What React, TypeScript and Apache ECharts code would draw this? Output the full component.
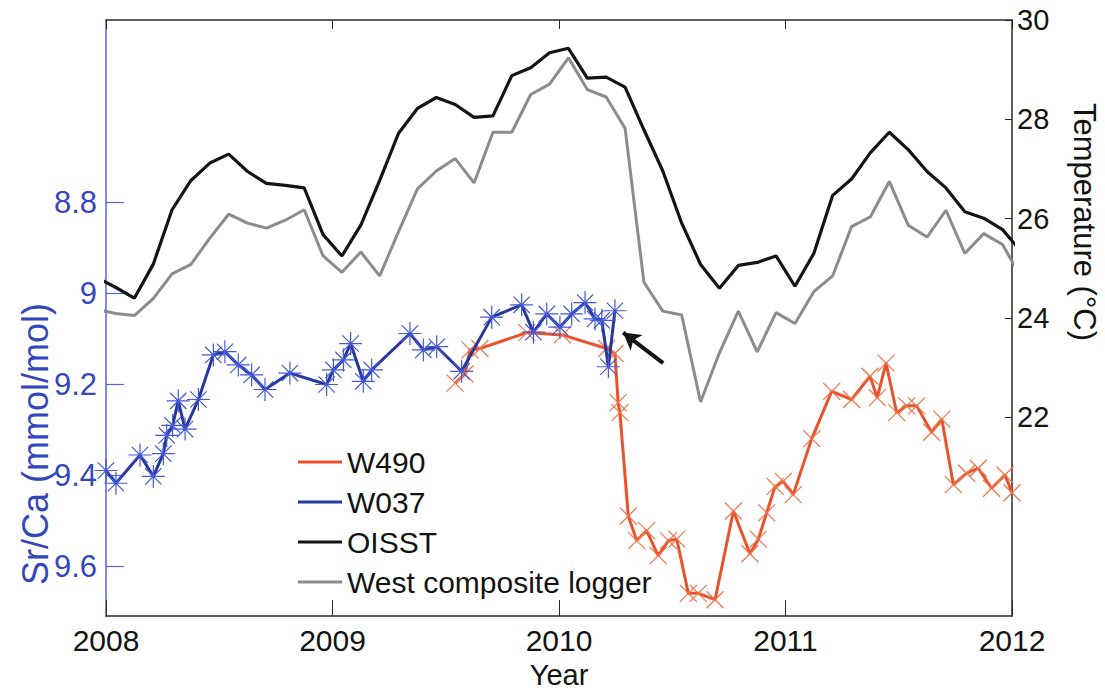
import React, { useEffect, useRef } from "react";
import * as echarts from "echarts";

// Monthly temperature records, December 2007 through January 2012 (°C)
const MONTHS_FROM_DEC_2007 = 50;
const oisst = [
  24.82,
  24.62, 24.4, 25.08, 26.18, 26.77, 27.12, 27.3, 26.95, 26.71, 26.67, 26.62, 25.68,
  25.25, 25.87, 26.77, 27.72, 28.22, 28.44, 28.3, 28.04, 28.07, 28.88, 29.04, 29.34,
  29.43, 28.83, 28.85, 28.65, 27.79, 26.96, 25.91, 25.08, 24.6, 25.06, 25.12, 25.25,
  24.64, 25.3, 26.47, 26.8, 27.33, 27.74, 27.39, 26.95, 26.62, 26.14, 26.01, 25.78,
  25.33,
];
const westLogger = [
  24.18,
  24.09, 24.05, 24.39, 24.89, 25.08, 25.61, 26.09, 25.91, 25.81, 25.97, 26.18, 25.25,
  24.92, 25.33, 24.85, 25.74, 26.6, 26.96, 27.21, 26.72, 27.74, 27.74, 28.5, 28.71,
  29.24, 28.6, 28.45, 27.82, 24.72, 24.14, 24.06, 22.31, 23.3, 24.14, 23.32, 24.11,
  23.89, 24.53, 24.85, 25.84, 26.04, 26.75, 25.87, 25.63, 26.17, 25.3, 25.7, 25.48,
  24.81,
];

// Coral Sr/Ca records (decimal year, mmol/mol)
const w037Years = [
  2008.0, 2008.044, 2008.15, 2008.209, 2008.253, 2008.268, 2008.294, 2008.319, 2008.349,
  2008.408, 2008.474, 2008.525, 2008.584, 2008.643, 2008.702, 2008.812, 2008.974, 2009.004,
  2009.048, 2009.08, 2009.136, 2009.173, 2009.342, 2009.401, 2009.46, 2009.57, 2009.703,
  2009.835, 2009.887, 2009.946, 2010.004, 2010.056, 2010.115, 2010.159, 2010.189, 2010.218,
  2010.247,
];
const w037SrCa = [
  9.39, 9.418, 9.356, 9.403, 9.353, 9.313, 9.291, 9.237, 9.299,
  9.234, 9.136, 9.129, 9.158, 9.18, 9.212, 9.176, 9.201, 9.169,
  9.147, 9.111, 9.194, 9.169, 9.089, 9.125, 9.118, 9.172, 9.053,
  9.026, 9.086, 9.046, 9.075, 9.046, 9.021, 9.057, 9.06, 9.162,
  9.039,
];
const w490Years = [
  2009.541, 2009.585, 2009.607, 2009.651, 2009.858, 2010.015, 2010.21, 2010.247, 2010.261,
  2010.269, 2010.306, 2010.343, 2010.387, 2010.438, 2010.483, 2010.52, 2010.571, 2010.615,
  2010.689, 2010.77, 2010.843, 2010.88, 2010.917, 2010.954, 2010.99, 2011.034, 2011.116,
  2011.204, 2011.292, 2011.373, 2011.405, 2011.444, 2011.491, 2011.535, 2011.579, 2011.645,
  2011.69, 2011.741, 2011.8, 2011.851, 2011.91, 2011.969, 2012.0,
];
const w490SrCa = [
  9.198, 9.178, 9.125, 9.122, 9.087, 9.092, 9.122, 9.133, 9.241,
  9.263, 9.49, 9.544, 9.522, 9.577, 9.544, 9.541, 9.66, 9.66,
  9.674, 9.479, 9.573, 9.541, 9.483, 9.425, 9.414, 9.443, 9.32,
  9.216, 9.234, 9.183, 9.23, 9.154, 9.263, 9.248, 9.248, 9.306,
  9.277, 9.421, 9.396, 9.385, 9.429, 9.4, 9.439,
];

// Arrow marking the W037 drop (decimal year, Sr/Ca): tail then head
const arrowTail = [2010.46, 9.154];
const arrowHead = [2010.283, 9.087];

const yearTicks = [2008, 2009, 2010, 2011, 2012];
const srcaTicks = [8.8, 9, 9.2, 9.4, 9.6];
const tempTicks = [22, 24, 26, 28, 30];

const SANS = "'Liberation Sans', Arial, Helvetica, sans-serif";
const RED = "#e9532c";
const RED_MARK = "#f0744a";
const BLUE = "#26389c";
const BLUE_MARK = "#4459d8";
const BLUE_AXIS = "#5566dd";
const BLUE_TEXT = "#3447bd";
const BLACK = "#141414";
const GREY = "#8c8c8c";

const STAR = "path://M10 0 L10 20 M0 10 L20 10 M2.9 2.9 L17.1 17.1 M17.1 2.9 L2.9 17.1";
const CROSS = "path://M0 0 L20 20 M20 0 L0 20";

const monthTime = (i: number) => 2007 + (11 + i + 0.5) / 12;
const monthly = (vals: number[]) =>
  vals.slice(0, MONTHS_FROM_DEC_2007).map((v, i) => [monthTime(i), v]);
const paired = (xs: number[], ys: number[]) => xs.map((x, i) => [x, ys[i]]);

export default function App() {
  const ref = useRef<HTMLDivElement>(null);

  useEffect(() => {
    if (!ref.current) return;
    const chart = echarts.init(ref.current, undefined, { renderer: "svg" });

    const axisFrame = { color: "#2a2a2a", width: 1.5 };

    chart.setOption({
      animation: false,
      backgroundColor: "#ffffff",
      grid: { left: 106, top: 20, right: 93, bottom: 69, containLabel: false },
      xAxis: [
        {
          type: "value",
          position: "bottom",
          min: yearTicks[0],
          max: yearTicks[yearTicks.length - 1],
          interval: 1,
          name: "Year",
          nameLocation: "middle",
          nameGap: 39,
          nameTextStyle: { fontFamily: SANS, fontSize: 29, color: BLACK },
          axisLine: { show: true, onZero: false, lineStyle: axisFrame },
          axisTick: { show: true, inside: true, length: 16, lineStyle: { color: "#2a2a2a", width: 1 } },
          axisLabel: {
            fontFamily: SANS,
            fontSize: 30,
            color: BLACK,
            margin: 9,
            formatter: (v: number) => String(v),
          },
          splitLine: { show: false },
        },
        {
          type: "value",
          position: "top",
          min: yearTicks[0],
          max: yearTicks[yearTicks.length - 1],
          interval: 1,
          axisLine: { show: true, onZero: false, lineStyle: axisFrame },
          axisTick: { show: true, inside: true, length: 9, lineStyle: { color: "#2a2a2a", width: 1 } },
          axisLabel: { show: false },
          splitLine: { show: false },
        },
      ],
      yAxis: [
        {
          type: "value",
          position: "left",
          inverse: true,
          min: 8.4,
          max: 9.71,
          axisLine: { show: true, onZero: false, lineStyle: { color: BLUE_AXIS, width: 1.5 } },
          axisTick: {
            show: true,
            inside: true,
            length: 18,
            customValues: srcaTicks,
            lineStyle: { color: BLUE_AXIS, width: 1.2 },
          },
          axisLabel: {
            customValues: srcaTicks,
            fontFamily: SANS,
            fontSize: 31,
            color: BLUE_TEXT,
            margin: 9,
          },
          splitLine: { show: false },
        },
        {
          type: "value",
          position: "right",
          min: 18,
          max: 30,
          axisLine: { show: true, onZero: false, lineStyle: axisFrame },
          axisTick: {
            show: true,
            inside: true,
            length: 7,
            customValues: tempTicks,
            lineStyle: { color: "#2a2a2a", width: 1 },
          },
          axisLabel: {
            customValues: tempTicks,
            fontFamily: SANS,
            fontSize: 29,
            color: BLACK,
            margin: 5,
          },
          splitLine: { show: false },
        },
      ],
      legend: {
        orient: "vertical",
        left: 298,
        top: 446,
        padding: 0,
        itemWidth: 44,
        itemHeight: 3,
        itemGap: 8,
        icon: "rect",
        selectedMode: false,
        textStyle: { fontFamily: SANS, fontSize: 30, lineHeight: 32, color: BLACK },
        data: [
          { name: "W490", itemStyle: { color: RED, borderWidth: 0 } },
          { name: "W037", itemStyle: { color: BLUE, borderWidth: 0 } },
          { name: "OISST", itemStyle: { color: BLACK, borderWidth: 0 } },
          { name: "West composite logger", itemStyle: { color: GREY, borderWidth: 0 } },
        ],
      },
      graphic: [
        {
          type: "text",
          x: 35,
          y: 444,
          rotation: Math.PI / 2,
          style: {
            text: "Sr/Ca (mmol/mol)",
            fill: BLUE_TEXT,
            font: `36px ${SANS}`,
            align: "center",
            verticalAlign: "middle",
          },
        },
        {
          type: "text",
          x: 1084,
          y: 222,
          rotation: -Math.PI / 2,
          style: {
            text: "Temperature (°C)",
            fill: BLACK,
            font: `31px ${SANS}`,
            align: "center",
            verticalAlign: "middle",
          },
        },
      ],
      series: [
        {
          name: "West composite logger",
          type: "line",
          xAxisIndex: 0,
          yAxisIndex: 1,
          data: monthly(westLogger),
          symbol: "none",
          lineStyle: { color: GREY, width: 3 },
          itemStyle: { color: GREY },
          z: 2,
        },
        {
          name: "OISST",
          type: "line",
          xAxisIndex: 0,
          yAxisIndex: 1,
          data: monthly(oisst),
          symbol: "none",
          lineStyle: { color: BLACK, width: 3.2 },
          itemStyle: { color: BLACK },
          z: 3,
        },
        {
          name: "W490",
          type: "line",
          xAxisIndex: 0,
          yAxisIndex: 0,
          data: paired(w490Years, w490SrCa),
          symbol: CROSS,
          symbolSize: 17,
          showAllSymbol: true,
          lineStyle: { color: RED, width: 3 },
          itemStyle: { color: "none", borderColor: RED_MARK, borderWidth: 1.2 },
          z: 4,
        },
        {
          name: "W037",
          type: "line",
          xAxisIndex: 0,
          yAxisIndex: 0,
          data: paired(w037Years, w037SrCa),
          symbol: STAR,
          symbolSize: 23,
          showAllSymbol: true,
          lineStyle: { color: BLUE, width: 3 },
          itemStyle: { color: "none", borderColor: BLUE_MARK, borderWidth: 1.2 },
          z: 5,
          markLine: {
            silent: true,
            symbol: ["none", "arrow"],
            symbolSize: [15, 17],
            label: { show: false },
            lineStyle: { color: BLACK, width: 4, type: "solid" },
            data: [[{ coord: arrowTail }, { coord: arrowHead }]],
          },
        },
      ],
    });

    return () => chart.dispose();
  }, []);

  return (
    <div
      ref={ref}
      style={{ position: "fixed", left: 0, top: 0, width: 1105, height: 694, background: "#fff" }}
    />
  );
}
